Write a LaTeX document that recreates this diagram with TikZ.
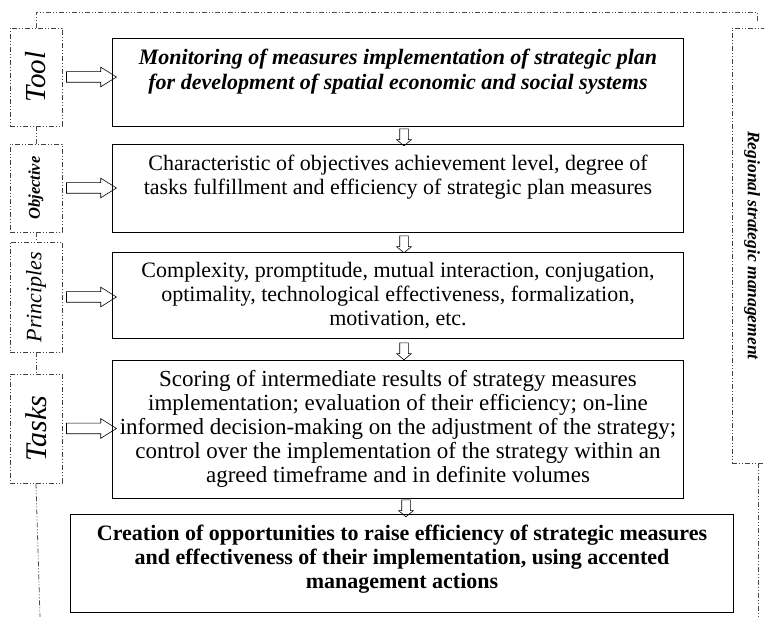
\documentclass[tikz,border=0pt]{standalone}
\usepackage{fontspec}
\setmainfont{Liberation Serif}
\usepackage{graphicx}
\usetikzlibrary{positioning,shapes.arrows}

\tikzset{
  mainbox/.style={draw, line width=1pt, anchor=north west, inner sep=0pt},
  boxtext/.style={align=center, inner sep=0pt, font=\fontsize{22}{24}\selectfont},
  sidebox/.style={draw=black!75, line width=0.9pt, dash pattern=on 5pt off 2pt on 1pt off 2pt on 1pt off 2pt, inner sep=0pt, minimum width=52pt},
  frameline/.style={draw=black!70, line width=0.8pt, dash pattern=on 5pt off 2pt on 1pt off 2pt on 1pt off 2pt},
  hollowright/.style={draw, single arrow, line width=0.6pt, inner sep=5pt, minimum height=50pt, single arrow head extend=4.5pt, single arrow tip angle=64},
  hollowdown/.style={draw, single arrow, line width=0.6pt, inner sep=4pt, minimum height=17pt, single arrow head extend=3pt, single arrow tip angle=100, shape border rotate=270}
}

\begin{document}
\begin{tikzpicture}[x=1pt, y=1pt]
    \useasboundingbox (0,0) rectangle (764,-617);
    % main column
    \node[mainbox, minimum width=571pt, minimum height=88pt] (m1) at (112,-38) {};
    \node[mainbox, minimum width=571pt, minimum height=88pt] (m2) at (112,-144) {};
    \node[mainbox, minimum width=571pt, minimum height=86pt] (m3) at (112,-252) {};
    \node[mainbox, minimum width=571pt, minimum height=138pt] (m4) at (112,-360) {};
    \node[mainbox, minimum width=663pt, minimum height=98pt] (m5) at (70,-514) {};
    \node[boxtext, font=\fontsize{22}{24.5}\selectfont\bfseries\itshape, below=11pt of m1.north] (t1)
        {Monitoring of measures implementation of strategic plan\\for development of spatial economic and social systems};
    \node[boxtext, below=11pt of m2.north] (t2)
        {Characteristic of objectives achievement level, degree of\\tasks fulfillment and efficiency of strategic plan measures};
    \node[boxtext, below=10pt of m3.north] (t3)
        {Complexity, promptitude, mutual interaction, conjugation,\\optimality, technological effectiveness, formalization,\\motivation, etc.};
    \node[boxtext, font=\fontsize{23}{24}\selectfont, below=10pt of m4.north] (t4)
        {Scoring of intermediate results of strategy measures\\implementation; evaluation of their efficiency; on-line\\informed decision-making on the adjustment of the strategy;\\control over the implementation of the strategy within an\\agreed timeframe and in definite volumes};
    \node[boxtext, font=\fontsize{22}{24}\selectfont\bfseries, below=11pt of m5.north] (t5)
        {Creation of opportunities to raise efficiency of strategic measures\\and effectiveness of their implementation, using accented\\management actions};
    % side labels
    \node[sidebox, minimum height=98pt] (tl) at (36,-77) {\rotatebox{90}{\fontsize{29}{30}\selectfont\itshape Tool}};
    \node[sidebox, minimum height=88pt] (ob) at (36,-188) {\rotatebox{90}{\fontsize{16.5}{18}\selectfont\bfseries\itshape Objective}};
    \node[sidebox, minimum height=110pt] (pr) at (36,-297) {\rotatebox{90}{\fontsize{22}{24}\selectfont\itshape Principles}};
    \node[sidebox, minimum height=109pt] (ta) at (36,-428.5) {\rotatebox{90}{\fontsize{30}{32}\selectfont\itshape Tasks}};
    \node[sidebox, minimum width=40pt, minimum height=435pt] (rg) at (752,-245.5)
        {\rotatebox{-90}{\fontsize{17.5}{18}\selectfont\bfseries\itshape Regional strategic management}};
    % frame line
    \coordinate (tr) at (757,-12);
    \coordinate (ne) at (757,-23);
    \coordinate (rb) at (758,-463);
    \coordinate (br) at (758,-617);
    \coordinate (bl) at (40,-617);
    \draw[frameline] (tl.north) |- (tr) -- (ne);
    \draw[frameline] (rb) -- (br);
    \draw[frameline] (ta.south) -- (bl);
    \foreach \a/\b in {tl/ob, ob/pr, pr/ta}
        \draw[frameline] (\a.south) -- (\b.north);
    % arrows
    \foreach \s/\m in {tl/m1, ob/m2, pr/m3, ta/m4}
        \path (\s.east) -- (\s.east -| \m.west) node[midway, hollowright] (r-\s) {};
    \foreach \a/\b in {m1/m2, m2/m3, m3/m4, m4/m5}
        \path (\a.south) -- (\b.north) node[midway, hollowdown, xshift=6pt] (d-\a) {};
\end{tikzpicture}
\end{document}
